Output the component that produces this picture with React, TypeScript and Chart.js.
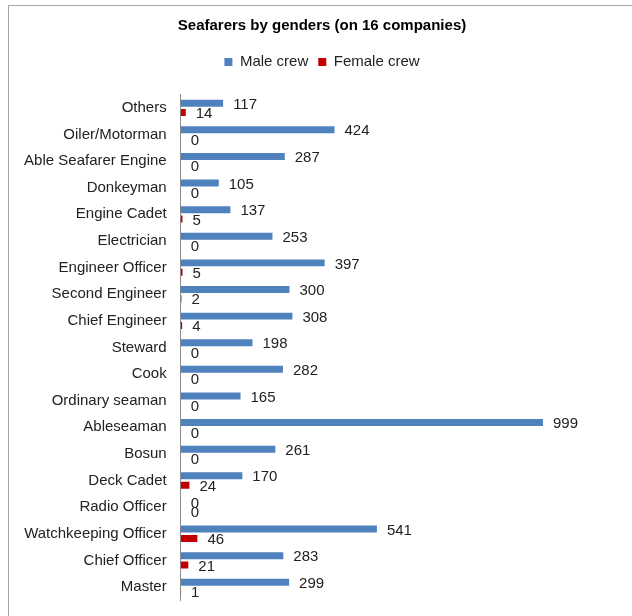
import React, { useEffect, useRef } from "react";
import { Chart, registerables } from "chart.js";

Chart.register(...registerables);

const categories = [
  "Others",
  "Oiler/Motorman",
  "Able Seafarer Engine",
  "Donkeyman",
  "Engine Cadet",
  "Electrician",
  "Engineer Officer",
  "Second Engineer",
  "Chief Engineer",
  "Steward",
  "Cook",
  "Ordinary seaman",
  "Ableseaman",
  "Bosun",
  "Deck Cadet",
  "Radio Officer",
  "Watchkeeping Officer",
  "Chief Officer",
  "Master",
];

const maleCrew = [117, 424, 287, 105, 137, 253, 397, 300, 308, 198, 282, 165, 999, 261, 170, 0, 541, 283, 299];
const femaleCrew = [14, 0, 0, 0, 5, 0, 5, 2, 4, 0, 0, 0, 0, 0, 24, 0, 46, 21, 1];

const FONT = "'Liberation Sans', Arial, sans-serif";

const valueLabels = {
  id: "valueLabels",
  afterDatasetsDraw(chart: any) {
    const ctx = chart.ctx;
    ctx.save();
    ctx.font = `15px ${FONT}`;
    ctx.fillStyle = "#222";
    ctx.textAlign = "left";
    ctx.textBaseline = "middle";
    chart.data.datasets.forEach((ds: any, di: number) => {
      const meta = chart.getDatasetMeta(di);
      meta.data.forEach((el: any, i: number) => {
        ctx.fillText(String(ds.data[i]), el.x + 10, el.y + 1.5);
      });
    });
    ctx.restore();
  },
};

export default function App() {
  const ref = useRef<HTMLCanvasElement | null>(null);
  useEffect(() => {
    if (!ref.current) return;
    const chart = new Chart(ref.current, {
      type: "bar",
      data: {
        labels: categories,
        datasets: [
          {
            label: "Male crew",
            data: maleCrew,
            backgroundColor: "#4F81BD",
            categoryPercentage: 0.7,
            barPercentage: 0.75,
          },
          {
            label: "Female crew",
            data: femaleCrew,
            backgroundColor: "#C00000",
            categoryPercentage: 0.7,
            barPercentage: 0.75,
          },
        ],
      },
      options: {
        indexAxis: "y",
        responsive: false,
        animation: false,
        layout: { padding: { left: 18, right: 6, top: 9, bottom: 15.7 } },
        plugins: {
          title: {
            display: true,
            text: "Seafarers by genders (on 16 companies)",
            color: "#000",
            font: { family: FONT, size: 15, weight: "bold" },
            padding: { top: 8, bottom: 9.5 },
          },
          legend: {
            display: true,
            position: "top",
            labels: {
              boxWidth: 8,
              boxHeight: 8,
              padding: 10,
              color: "#222",
              font: { family: FONT, size: 15 },
            },
          },
          tooltip: { enabled: false },
        },
        scales: {
          x: {
            position: "top",
            min: 0,
            max: 1228,
            display: true,
            grid: { display: false, drawTicks: false },
            border: { display: false },
            ticks: { display: false },
            afterFit: (s: any) => {
              s.height = 15;
            },
          },
          y: {
            grid: { display: false, drawTicks: false },
            border: { display: true, color: "#8c8c8c", width: 1 },
            ticks: {
              color: "#222",
              padding: 14,
              font: { family: FONT, size: 15 },
            },
            afterFit: (s: any) => {
              s.width = 162.7;
              s.paddingTop = 0;
              s.paddingBottom = 0;
            },
          },
        },
      },
      plugins: [valueLabels],
    } as any);
    return () => chart.destroy();
  }, []);

  return (
    <div style={{ position: "absolute", left: 0, top: 0, width: 632, height: 616, background: "#fff" }}>
      <canvas ref={ref} width={632} height={616} style={{ position: "absolute", left: 0, top: 0, width: 632, height: 616 }} />
      <div
        style={{
          position: "absolute",
          left: 8,
          top: 5,
          width: 624,
          height: 611,
          borderTop: "1px solid #a6a6a6",
          borderLeft: "1px solid #a6a6a6",
          boxSizing: "border-box",
          pointerEvents: "none",
        }}
      />
    </div>
  );
}
